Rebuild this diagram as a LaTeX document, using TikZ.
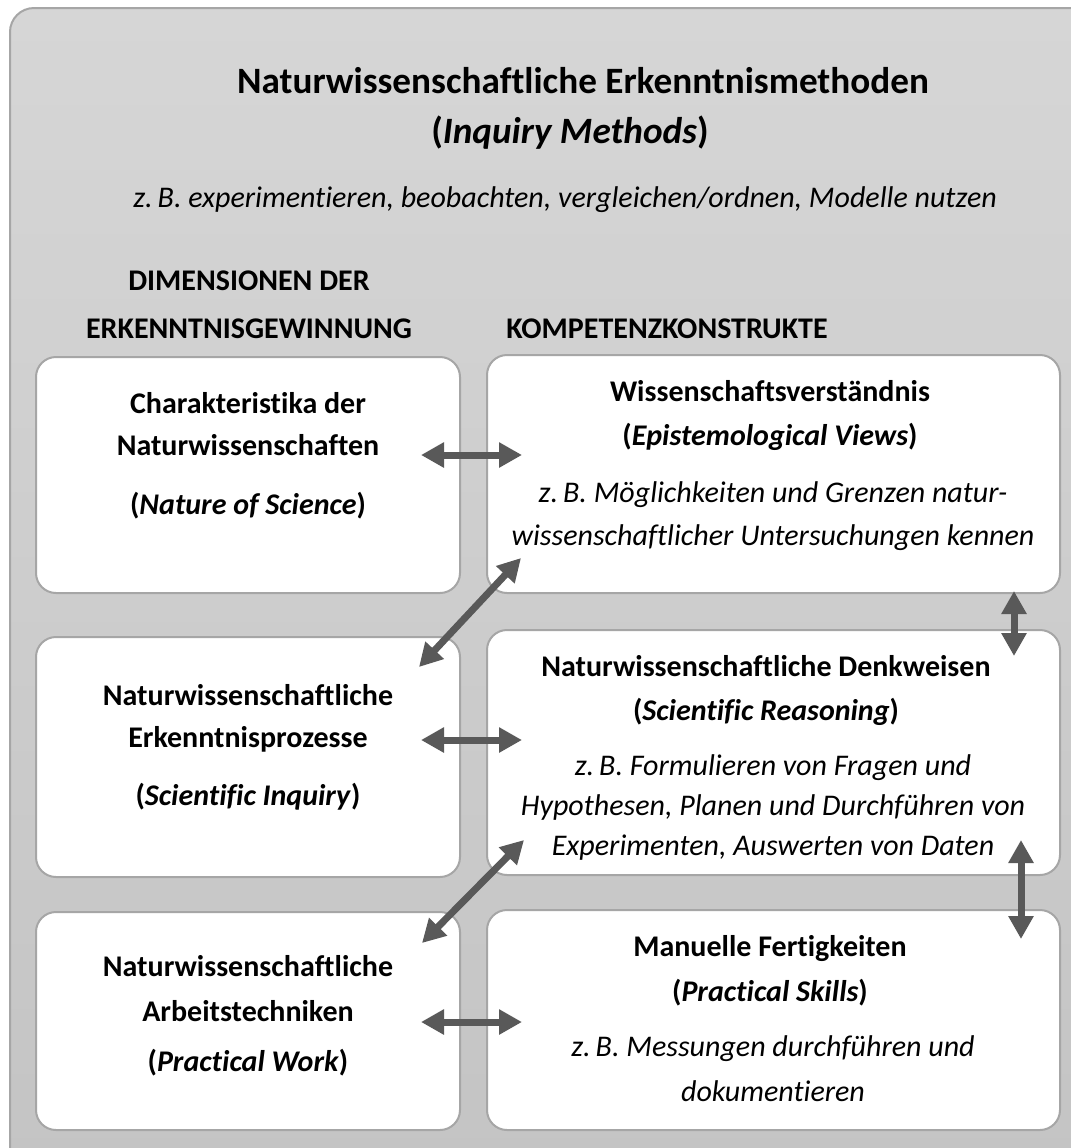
\documentclass[tikz,border=0pt]{standalone}
\usepackage{fontspec}
\setmainfont{Carlito}[Ligatures=CommonOff]
\usetikzlibrary{arrows.meta,positioning,calc}
\definecolor{frame}{RGB}{166,166,166}
\definecolor{paneltop}{RGB}{214,214,214}
\definecolor{panelbot}{RGB}{196,196,196}
\definecolor{arrowgray}{RGB}{89,89,89}

\begin{document}
\begin{tikzpicture}[
  x=0.5pt, y=-0.5pt,
  panel/.style={draw=frame, line width=1pt, rounded corners=12pt,
                top color=paneltop, bottom color=panelbot},
  box/.style={draw=frame, fill=white, line width=1pt, rounded corners=10pt,
              minimum width=212pt},
  kbox/.style={box, minimum width=286.5pt},
  maintitle/.style={font=\fontsize{18.6}{22}\selectfont\bfseries, anchor=base, inner sep=0pt},
  label/.style={font=\fontsize{15}{18}\selectfont\bfseries, anchor=base, inner sep=0pt},
  example/.style={font=\fontsize{15}{18}\selectfont\itshape, anchor=base, inner sep=0pt},
  link/.style={<->, draw=arrowgray, line width=3.5pt},
  >={Triangle[width=12pt,length=11.5pt]}
]
\clip (0,0) rectangle (1071,1148);
\path[panel] (10,8) rectangle (1100,1170);

\node[maintitle] (t1) at (583,93)  {Naturwissenschaftliche Erkenntnismethoden};
\node[maintitle] (t2) at (570,143) {(\textit{Inquiry Methods})};
\node[example]   (t3) at (565,207) {z.\,B. experimentieren, beobachten, vergleichen/ordnen, Modelle nutzen};

\node[label] (hd1) at (249,290) {DIMENSIONEN DER};
\node[label] (hd2) at (249,338) {ERKENNTNISGEWINNUNG};
\node[label] (hk)  at (667,338) {KOMPETENZKONSTRUKTE};

\node[box, minimum height=118pt]    (c1) at (248,475)    {};
\node[box, minimum height=120pt]    (c2) at (248,757)    {};
\node[box, minimum height=109pt]    (c3) at (248,1021)   {};
\node[kbox, minimum height=119pt]   (k1) at (773.5,474)  {};
\node[kbox, minimum height=122.5pt] (k2) at (773.5,752.5){};
\node[kbox, minimum height=110pt]   (k3) at (773.5,1020) {};

\node[label] at (248,413) {Charakteristika der};
\node[label] at (248,455) {Naturwissenschaften};
\node[label] at (248,514) {(\textit{Nature of Science})};

\node[label] at (248,705) {Naturwissenschaftliche};
\node[label] at (248,747) {Erkenntnisprozesse};
\node[label] at (248,805) {(\textit{Scientific Inquiry})};

\node[label] at (248,976)  {Naturwissenschaftliche};
\node[label] at (248,1021) {Arbeitstechniken};
\node[label] at (248,1071) {(\textit{Practical Work})};

\node[label]   at (770,401) {Wissenschaftsverständnis};
\node[label]   at (770,445) {(\textit{Epistemological Views})};
\node[example] at (773,502) {z.\,B. Möglichkeiten und Grenzen natur-};
\node[example] at (773,545) {wissenschaftlicher Untersuchungen kennen};

\node[label]   at (766,676) {Naturwissenschaftliche Denkweisen};
\node[label]   at (766,720) {(\textit{Scientific Reasoning})};
\begin{scope}
  \clip (k2.north west) rectangle ($(k2.south east)+(0,-16)$);
  \node[example] at (773,775) {z.\,B. Formulieren von Fragen und};
  \node[example] at (773,815) {Hypothesen, Planen und Durchführen von};
  \node[example] at (773,855) {Experimenten, Auswerten von Daten};
\end{scope}

\node[label]   at (770,956)  {Manuelle Fertigkeiten};
\node[label]   at (770,1001) {(\textit{Practical Skills})};
\node[example] at (773,1056) {z.\,B. Messungen durchführen und};
\node[example] at (773,1101) {dokumentieren};

\draw[link] ($(c1.east)+(-40,-20)$) -- ($(k1.west)+(36,-19)$);
\draw[link] ($(c2.east)+(-40,-17)$) -- ($(k2.west)+(36,-12.5)$);
\draw[link] ($(c3.east)+(-40,1)$)   -- ($(k3.west)+(36,2)$);
\draw[link] ($(k1.south west)+(35,-36)$) -- ($(c2.north east)+(-42,31)$);
\draw[link] ($(k2.south west)+(38,-36)$) -- ($(c3.north east)+(-39,32)$);
\draw[link] ($(k1.south east)+(-47,-3)$)  -- ($(k2.north east)+(-47,27)$);
\draw[link] ($(k2.south east)+(-40,-36)$) -- ($(k3.north east)+(-40,30)$);
\end{tikzpicture}
\end{document}
